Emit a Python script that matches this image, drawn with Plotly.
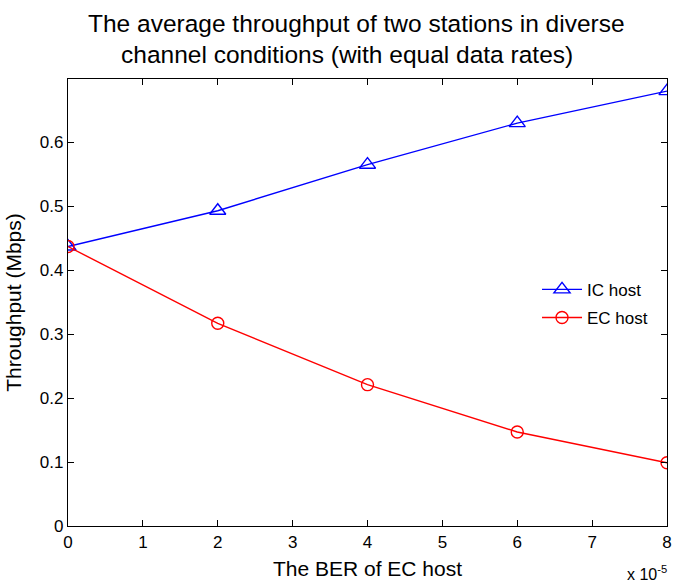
import plotly.graph_objects as go

ber = [0, 2, 4, 6, 8]
ic_host = [0.437, 0.493, 0.565, 0.630, 0.680]
ec_host = [0.437, 0.317, 0.221, 0.147, 0.099]
x_ticks = [0, 1, 2, 3, 4, 5, 6, 7, 8]
y_ticks = [0, 0.1, 0.2, 0.3, 0.4, 0.5, 0.6]
y_tick_text = ["0", "0.1", "0.2", "0.3", "0.4", "0.5", "0.6"]

fig = go.Figure()
fig.add_trace(go.Scatter(x=ber, y=ic_host, mode="lines+markers", name="IC host",
                         legendgroup="a",
                         line=dict(color="#0000ff", width=1.4),
                         marker=dict(symbol="triangle-up-open", size=14, color="#0000ff", line=dict(width=1.4))))
fig.add_trace(go.Scatter(x=ber, y=ec_host, mode="lines+markers", name="EC host",
                         legendgroup="b",
                         line=dict(color="#ff0000", width=1.4),
                         marker=dict(symbol="circle-open", size=12, color="#ff0000", line=dict(width=1.4))))

font = "Liberation Sans, Arial, sans-serif"
fig.update_layout(
    width=685, height=587,
    margin=dict(l=68, r=18, t=79, b=61, autoexpand=False),
    paper_bgcolor="white", plot_bgcolor="white",
    font=dict(family=font, size=17, color="black"),
    showlegend=True,
    legend=dict(x=0.783, y=0.497, xanchor="left", yanchor="middle",
                bgcolor="rgba(0,0,0,0)", borderwidth=0,
                font=dict(size=17, family=font), tracegroupgap=3, itemwidth=40),
    xaxis=dict(range=[0, 8], tickvals=x_ticks, ticks="inside", ticklen=6,
               showline=True, linecolor="black", linewidth=1.4, mirror="ticks",
               tickcolor="black", showgrid=False, zeroline=False, automargin=False,
               tickfont=dict(size=17),
               title=dict(text="The BER of EC host", font=dict(size=21), standoff=10)),
    yaxis=dict(range=[0, 0.699], tickvals=y_ticks, ticktext=y_tick_text, ticks="inside", ticklen=6,
               showline=True, linecolor="black", linewidth=1.4, mirror="ticks",
               tickcolor="black", showgrid=False, zeroline=False, automargin=False,
               tickfont=dict(size=17),
               title=dict(text="Throughput (Mbps)", font=dict(size=21), standoff=12)),
)

ph = 587 - 79 - 61
pw = 685 - 68 - 18
def px_x(x):
    return (x - 68) / pw
def px_y(y):
    return (587 - 61 - y) / ph

title_lines = ["The average throughput of two stations in diverse",
               "channel conditions (with equal data rates)"]
for line, xc, yc in zip(title_lines, [356, 347], [24, 54]):
    fig.add_annotation(text=line, xref="paper", yref="paper", x=px_x(xc), y=px_y(yc),
                       xanchor="center", yanchor="middle", showarrow=False,
                       font=dict(size=24.5, family=font, color="black"))

fig.add_annotation(text="x 10<sup>-5</sup>", xref="paper", yref="paper", x=px_x(669), y=px_y(573),
                   xanchor="right", yanchor="middle", showarrow=False,
                   font=dict(size=16, family=font, color="black"))
fig.write_html("out.html", config={"displayModeBar": False},
               post_script="document.body.style.margin='0';document.body.style.overflow='hidden';")
